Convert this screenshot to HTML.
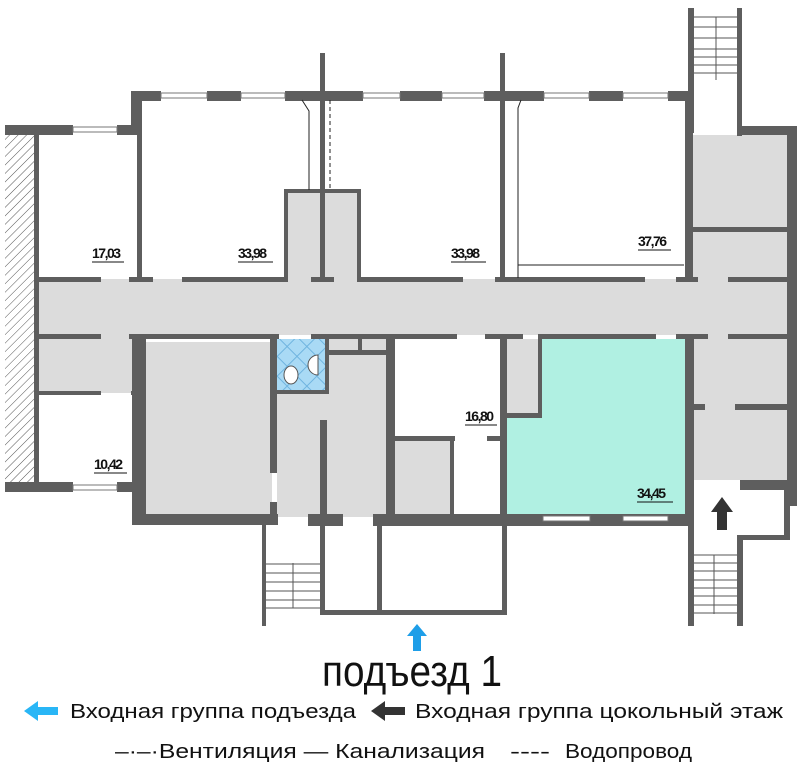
<!DOCTYPE html>
<html><head><meta charset="utf-8"><style>
html,body{margin:0;padding:0;background:#fff;width:806px;height:768px;overflow:hidden}
svg{display:block}
text{font-family:"Liberation Sans Narrow","Liberation Sans","DejaVu Sans",sans-serif}
</style></head><body>
<svg width="806" height="768" viewBox="0 0 806 768" xmlns="http://www.w3.org/2000/svg">
<defs>
<pattern id="hatch" width="6" height="6" patternUnits="userSpaceOnUse" patternTransform="rotate(45)">
<rect width="6" height="6" fill="#fff"/><line x1="0" y1="0" x2="0" y2="6" stroke="#555" stroke-width="1"/></pattern>
<pattern id="tile" width="14" height="14" patternUnits="userSpaceOnUse" patternTransform="rotate(45)">
<rect width="14" height="14" fill="#a9daf5"/><rect width="14" height="14" fill="none" stroke="#6fb4e0" stroke-width="1"/></pattern>
</defs>
<g fill="#dcdcdc">
<rect x="38" y="279" width="752" height="56"/>
<rect x="38" y="335" width="100" height="58"/>
<rect x="146" y="342" width="126" height="173"/>
<rect x="277" y="355" width="115" height="162"/>
<rect x="285" y="190" width="75" height="92"/>
<rect x="325" y="339" width="65" height="18"/>
<rect x="395" y="441" width="58" height="76"/>
<rect x="505" y="339" width="35" height="78"/>
<rect x="690" y="135" width="97" height="345"/>
</g>
<rect x="5" y="134" width="30" height="352" fill="url(#hatch)"/>
<rect x="277" y="339" width="48" height="53" fill="url(#tile)"/>
<ellipse cx="291" cy="375" rx="7" ry="9" fill="#fff" stroke="#555"/>
<path d="M318 355 a10 10 0 0 0 0 20 z" fill="#fff" stroke="#555"/>
<path d="M540 339 H685 V515 H507 V417 H540 Z" fill="#b0f0e2"/>
<g fill="#5e5e5e">
<!-- top left -->
<rect x="5" y="125" width="68" height="10"/><rect x="117" y="125" width="25" height="10"/>
<rect x="34" y="134" width="5" height="352"/>
<rect x="131" y="92" width="11" height="43"/><rect x="137" y="92" width="5" height="188"/>
<rect x="131" y="91" width="30" height="10"/><rect x="207" y="91" width="34" height="10"/>
<rect x="285" y="91" width="78" height="10"/><rect x="400" y="91" width="42" height="10"/>
<rect x="484" y="91" width="60" height="10"/><rect x="589" y="91" width="34" height="10"/>
<rect x="668" y="91" width="22" height="10"/>
<rect x="320" y="53" width="5" height="229"/><rect x="500" y="53" width="5" height="229"/>
<rect x="284" y="189" width="4" height="93"/><rect x="357" y="189" width="4" height="93"/><rect x="284" y="189" width="77" height="4"/>
<!-- corridor top wall -->
<rect x="38" y="277" width="63" height="5"/><rect x="129" y="277" width="24" height="5"/>
<rect x="182" y="277" width="106" height="5"/><rect x="311" y="277" width="23" height="5"/>
<rect x="357" y="277" width="106" height="5"/><rect x="495" y="277" width="150" height="5"/>
<rect x="676" y="277" width="22" height="5"/><rect x="728" y="277" width="62" height="5"/>
<rect x="685" y="100" width="8" height="182"/>
<rect x="688" y="8" width="6" height="125"/><rect x="737" y="8" width="5" height="128"/>
<rect x="737" y="126" width="60" height="9"/><rect x="787" y="126" width="10" height="380"/>
<rect x="690" y="227" width="97" height="5"/>
<!-- corridor bottom wall -->
<rect x="38" y="334" width="63" height="5"/><rect x="129" y="334" width="150" height="5"/>
<rect x="311" y="334" width="146" height="5"/><rect x="485" y="334" width="38" height="5"/>
<rect x="538" y="334" width="118" height="5"/><rect x="676" y="334" width="32" height="5"/>
<rect x="728" y="334" width="62" height="5"/>
<rect x="34" y="334" width="5" height="26"/><rect x="34" y="386" width="5" height="100"/>
<rect x="38" y="391" width="63" height="4"/><rect x="131" y="391" width="8" height="4"/>
<rect x="5" y="482" width="68" height="10"/><rect x="117" y="482" width="25" height="10"/>
<rect x="132" y="335" width="14" height="190"/><rect x="132" y="514" width="146" height="11"/>
<rect x="270" y="339" width="7" height="134"/><rect x="270" y="502" width="7" height="22"/>
<rect x="275" y="390" width="53" height="4"/><rect x="325" y="339" width="4" height="55"/>
<rect x="325" y="350" width="65" height="5"/><rect x="358" y="339" width="4" height="14"/>
<rect x="320" y="420" width="7" height="100"/>
<rect x="386" y="339" width="9" height="180"/>
<rect x="395" y="436" width="60" height="5"/><rect x="450" y="436" width="4" height="80"/>
<rect x="487" y="436" width="13" height="5"/>
<rect x="500" y="339" width="7" height="185"/>
<rect x="538" y="339" width="4" height="78"/><rect x="505" y="413" width="37" height="5"/>
<rect x="685" y="335" width="9" height="190"/>
<rect x="690" y="404" width="15" height="6"/><rect x="735" y="404" width="55" height="6"/>
<rect x="740" y="480" width="57" height="10"/><rect x="784" y="486" width="6" height="54"/>
<rect x="740" y="535" width="50" height="5"/>
<rect x="688" y="520" width="6" height="106"/><rect x="737" y="535" width="6" height="91"/>
<!-- bottom -->
<rect x="308" y="514" width="35" height="12"/><rect x="373" y="514" width="317" height="12"/>
<rect x="505" y="514" width="38" height="12"/><rect x="590" y="514" width="33" height="12"/><rect x="668" y="514" width="22" height="12"/>
<rect x="320" y="520" width="5" height="95"/><rect x="377" y="520" width="5" height="95"/><rect x="502" y="520" width="5" height="95"/>
<rect x="320" y="610" width="187" height="5"/>
<rect x="262" y="524" width="4" height="102"/>
</g>
<!-- windows -->
<g fill="#fff" stroke="#777" stroke-width="1">
<rect x="73" y="127" width="44" height="5"/><rect x="73" y="485" width="44" height="5"/>
<rect x="161" y="93" width="46" height="5"/><rect x="241" y="93" width="44" height="5"/>
<rect x="363" y="93" width="37" height="5"/><rect x="442" y="93" width="42" height="5"/>
<rect x="544" y="93" width="45" height="5"/><rect x="623" y="93" width="45" height="5"/>
<rect x="543" y="516" width="47" height="5"/><rect x="623" y="516" width="45" height="5"/>
</g>
<!-- stairs -->
<g stroke="#555" stroke-width="1">
<line x1="694" y1="17" x2="737" y2="17"/><line x1="694" y1="27" x2="737" y2="27"/><line x1="694" y1="38" x2="737" y2="38"/>
<line x1="694" y1="49" x2="737" y2="49"/><line x1="694" y1="57" x2="737" y2="57"/><line x1="694" y1="65" x2="737" y2="65"/><line x1="694" y1="73" x2="737" y2="73"/>
<line x1="716" y1="17" x2="716" y2="80"/>
<line x1="266" y1="564" x2="320" y2="564"/><line x1="266" y1="573" x2="320" y2="573"/><line x1="266" y1="582" x2="320" y2="582"/>
<line x1="266" y1="591" x2="320" y2="591"/><line x1="266" y1="600" x2="320" y2="600"/><line x1="266" y1="608" x2="320" y2="608"/>
<line x1="293" y1="563" x2="293" y2="608"/>
<line x1="694" y1="555" x2="737" y2="555"/><line x1="694" y1="563" x2="737" y2="563"/><line x1="694" y1="571" x2="737" y2="571"/><line x1="694" y1="580" x2="737" y2="580"/>
<line x1="694" y1="588" x2="737" y2="588"/><line x1="694" y1="596" x2="737" y2="596"/><line x1="694" y1="605" x2="737" y2="605"/><line x1="694" y1="613" x2="737" y2="613"/>
<line x1="714" y1="555" x2="714" y2="614"/>
<!-- pipes -->
<polyline points="302,100 309,111 309,190" fill="none" stroke="#222"/>
<line x1="330" y1="100" x2="330" y2="190" stroke="#222" stroke-dasharray="4,3"/>
<polyline points="521,100 518,108 518,278" fill="none" stroke="#222"/>
<line x1="518" y1="265" x2="684" y2="265" stroke="#222"/>
</g>
<!-- arrows -->
<path d="M722 497 L733 512 H727 V530 H717 V512 H711 Z" fill="#333"/>
<path d="M417 624 L427 636 H421 V651 H413 V636 H407 Z" fill="#1e9ee8"/>
<path d="M24 711 L38 701 V707 H58 V715 H38 V721 Z" fill="#29b6f6"/>
<path d="M371 711 L385 701 V707 H405 V715 H385 V721 Z" fill="#333"/>
<!-- labels -->
<g font-size="14" font-weight="bold" fill="#111" style="letter-spacing:-1.5px">
<text x="92" y="258">17,03</text><line x1="92" y1="262" x2="124" y2="262" stroke="#111"/>
<text x="238" y="258">33,98</text><line x1="238" y1="262" x2="273" y2="262" stroke="#111"/>
<text x="451" y="258">33,98</text><line x1="451" y1="262" x2="486" y2="262" stroke="#111"/>
<text x="638" y="246">37,76</text><line x1="638" y1="250" x2="671" y2="250" stroke="#111"/>
<text x="94" y="469">10,42</text><line x1="94" y1="473" x2="127" y2="473" stroke="#111"/>
<text x="465" y="421">16,80</text><line x1="465" y1="425" x2="497" y2="425" stroke="#111"/>
<text x="637" y="498">34,45</text><line x1="637" y1="502" x2="673" y2="502" stroke="#111"/>
</g>
<text x="322" y="686" font-size="44" textLength="180" lengthAdjust="spacingAndGlyphs" fill="#111">подъезд 1</text>
<text x="70" y="718" font-size="20" textLength="286" lengthAdjust="spacingAndGlyphs" fill="#111">Входная группа подъезда</text>
<text x="415" y="718" font-size="20" textLength="368" lengthAdjust="spacingAndGlyphs" fill="#111">Входная группа цокольный этаж</text>
<text x="115" y="758" font-size="20" textLength="370" lengthAdjust="spacingAndGlyphs" fill="#111">–·–·Вентиляция — Канализация</text>
<text x="510" y="758" font-size="20" textLength="40" lengthAdjust="spacingAndGlyphs" fill="#111">----</text>
<text x="565" y="758" font-size="20" textLength="127" lengthAdjust="spacingAndGlyphs" fill="#111">Водопровод</text>
</svg>
</body></html>
